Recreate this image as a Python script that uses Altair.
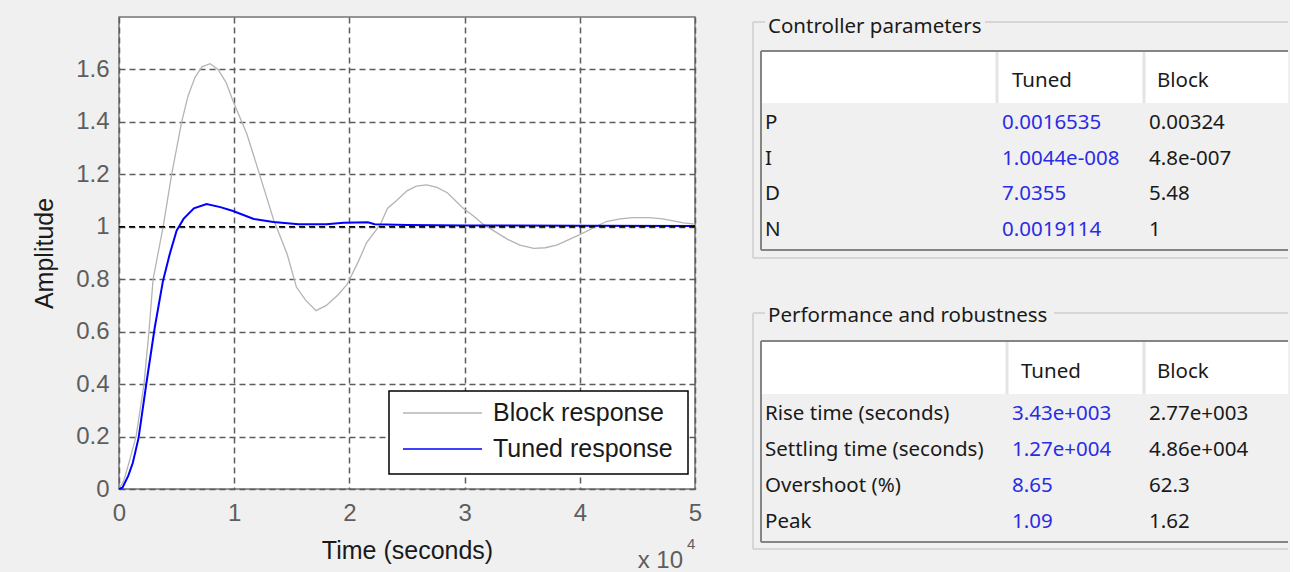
import altair as alt
import pandas as pd

# Step responses, time in units of 1e4 seconds
block_t = [0, 0.04, 0.08, 0.148, 0.217, 0.26, 0.296, 0.383, 0.457, 0.544,
           0.60, 0.66, 0.72, 0.79, 0.86, 0.93, 0.99, 1.11, 1.22, 1.34,
           1.46, 1.54, 1.62, 1.71, 1.80, 1.90, 1.98, 2.08, 2.15, 2.27,
           2.33, 2.41, 2.50, 2.58, 2.67, 2.76, 2.85, 2.99, 3.08, 3.16,
           3.37, 3.48, 3.60, 3.70, 3.80, 4.00, 4.23, 4.35, 4.46, 4.60,
           4.72, 4.90, 5.00]
block_y = [0, 0.03, 0.09, 0.2, 0.4, 0.6, 0.8, 1.0, 1.2, 1.4,
           1.5, 1.57, 1.61, 1.622, 1.60, 1.55, 1.48, 1.354, 1.20, 1.03,
           0.895, 0.77, 0.72, 0.68, 0.70, 0.74, 0.78, 0.87, 0.94, 1.01,
           1.07, 1.10, 1.137, 1.155, 1.16, 1.15, 1.13, 1.07, 1.04, 1.01,
           0.953, 0.93, 0.918, 0.92, 0.93, 0.97, 1.02, 1.03, 1.035, 1.035,
           1.03, 1.015, 1.01]

tuned_t = [0, 0.03, 0.08, 0.12, 0.17, 0.24, 0.31, 0.38, 0.44, 0.50,
           0.56, 0.65, 0.76, 0.88, 0.99, 1.08, 1.17, 1.34, 1.56, 1.80,
           1.95, 2.16, 2.22, 2.50, 3.00, 4.00, 5.00]
tuned_y = [0, 0.005, 0.05, 0.10, 0.195, 0.41, 0.615, 0.79, 0.895, 0.985,
           1.03, 1.07, 1.0865, 1.075, 1.06, 1.045, 1.03, 1.018, 1.01, 1.01,
           1.015, 1.017, 1.01, 1.007, 1.005, 1.004, 1.003]

x_ticks = [0, 1, 2, 3, 4, 5]
y_ticks = [0, 0.2, 0.4, 0.6, 0.8, 1.0, 1.2, 1.4, 1.6]
legend_labels = ["Block response", "Tuned response"]

param_names = ["P", "I", "D", "N"]
param_tuned = ["0.0016535", "1.0044e-008", "7.0355", "0.0019114"]
param_block = ["0.00324", "4.8e-007", "5.48", "1"]

perf_names = ["Rise time (seconds)", "Settling time (seconds)", "Overshoot (%)", "Peak"]
perf_tuned = ["3.43e+003", "1.27e+004", "8.65", "1.09"]
perf_block = ["2.77e+003", "4.86e+004", "62.3", "1.62"]

# ---------------------------------------------------------------- styling
PLOT_W, PLOT_H = 576, 472
PLOT_FONT = "Liberation Sans"
UI_FONT = "Noto Sans"
BG = "#f0f0f0"
GRAY_LINE = "#b4b4b4"
BLUE_LINE = "#0000ff"
TUNED_TEXT = "#2b2be6"
DARK_TEXT = "#1a1a1a"
GRID = dict(grid=True, gridDash=[6, 4], gridColor="#5c5c5c", gridWidth=1.5)

# ---------------------------------------------------------------- step plot
block_df = pd.DataFrame({"t": block_t, "amp": block_y})
tuned_df = pd.DataFrame({"t": tuned_t, "amp": tuned_y})

x_enc = alt.X(
    "t:Q",
    scale=alt.Scale(domain=[0, 5], nice=False, zero=False),
    axis=alt.Axis(
        values=x_ticks, format="d", title="Time (seconds)", **GRID,
        domain=False, ticks=False, labelFlush=False, labelOverlap=False,
        labelFont=PLOT_FONT, labelFontSize=24, labelColor="#5e5e5e", labelPadding=12,
        titleFont=PLOT_FONT, titleFontSize=25, titleFontWeight="normal",
        titleColor=DARK_TEXT, titlePadding=13,
    ),
)
y_enc = alt.Y(
    "amp:Q",
    scale=alt.Scale(domain=[0, 1.8], nice=False, zero=False),
    axis=alt.Axis(
        values=y_ticks, format=".1~f", title="Amplitude", **GRID,
        domain=False, ticks=False, labelFlush=False, labelOverlap=False,
        labelFont=PLOT_FONT, labelFontSize=24, labelColor="#5e5e5e", labelPadding=10,
        titleFont=PLOT_FONT, titleFontSize=25, titleFontWeight="normal",
        titleColor=DARK_TEXT, titlePadding=18,
    ),
)

block_line = alt.Chart(block_df).mark_line(color=GRAY_LINE, strokeWidth=1.3).encode(x=x_enc, y=y_enc)
tuned_line = alt.Chart(tuned_df).mark_line(color=BLUE_LINE, strokeWidth=2).encode(x="t:Q", y="amp:Q")

unity = alt.Chart(pd.DataFrame({"amp": [1.0]})).mark_rule(
    color="black", strokeDash=[6, 4], strokeWidth=1.6
).encode(y="amp:Q")

one = pd.DataFrame({"k": [0]})

# legend box with line samples
legend_box = alt.Chart(one).mark_rect(fill="white", stroke="black", strokeWidth=1.5).encode(
    x=alt.value(270), x2=alt.value(569), y=alt.value(374), y2=alt.value(457)
)
legend_parts = [legend_box]
for i, (label, col) in enumerate(zip(legend_labels, [GRAY_LINE, BLUE_LINE])):
    ly = 396 + 36 * i
    legend_parts.append(
        alt.Chart(one).mark_rule(color=col, strokeWidth=1.5).encode(
            x=alt.value(284), x2=alt.value(363), y=alt.value(ly)
        )
    )
    legend_parts.append(
        alt.Chart(one).mark_text(
            align="left", baseline="middle", font=PLOT_FONT, fontSize=25, color=DARK_TEXT
        ).encode(x=alt.value(374), y=alt.value(ly), text=alt.value(label))
    )

# exponent note under the time axis
exp_df = pd.DataFrame({"t": [5]})
exp_base = alt.Chart(exp_df).mark_text(
    align="right", baseline="alphabetic", font=PLOT_FONT, fontSize=24, color="#5e5e5e", dx=-12
).encode(x="t:Q", y=alt.value(PLOT_H + 79), text=alt.value("x 10"))
exp_pow = alt.Chart(exp_df).mark_text(
    align="left", baseline="alphabetic", font=PLOT_FONT, fontSize=15, color="#5e5e5e", dx=-8
).encode(x="t:Q", y=alt.value(PLOT_H + 60), text=alt.value("4"))

left = alt.layer(
    block_line, tuned_line, unity, *legend_parts, exp_base, exp_pow
).properties(
    width=PLOT_W, height=PLOT_H,
    view=alt.ViewBackground(fill="white", stroke="#747474", strokeWidth=1.5),
)

# ---------------------------------------------------------------- tables
PANEL_W, PANEL_H = 535, 540
sx = alt.Scale(domain=[0, PANEL_W], nice=False, zero=False)
sy = alt.Scale(domain=[0, PANEL_H], nice=False, zero=False, reverse=True)

tables = [
    dict(title="Controller parameters", names=param_names, tuned=param_tuned, block=param_block,
         box_top=5, title_y=10, title_end=232, top=34, head_bottom=86, bottom=233, box_bottom=241,
         seps=[244, 391], head_x=[259, 404], val_x=[249, 396], row_y=[106, 142, 177, 213], head_y=64),
    dict(title="Performance and robustness", names=perf_names, tuned=perf_tuned, block=perf_block,
         box_top=296, title_y=299, title_end=301, top=324, head_bottom=377, bottom=525, box_bottom=532,
         seps=[254, 391], head_x=[268, 404], val_x=[259, 396], row_y=[397, 433, 469, 505], head_y=355),
]

rects, rules, texts = [], [], []
for tb in tables:
    # group box frame (gap behind its title)
    gb = "#d6d6d6"
    rules += [
        dict(x=0, x2=12, y=tb["box_top"], y2=tb["box_top"], c=gb, w=2),
        dict(x=tb["title_end"], x2=PANEL_W, y=tb["box_top"], y2=tb["box_top"], c=gb, w=2),
        dict(x=0, x2=0, y=tb["box_top"], y2=tb["box_bottom"], c=gb, w=2),
        dict(x=0, x2=PANEL_W, y=tb["box_bottom"], y2=tb["box_bottom"], c=gb, w=2),
    ]
    texts.append(dict(x=15, y=tb["title_y"], text=tb["title"], c=DARK_TEXT))
    # header row
    rects.append(dict(x=9, x2=PANEL_W, y=tb["top"], y2=tb["head_bottom"], f="white"))
    for s in tb["seps"]:
        rules.append(dict(x=s, x2=s, y=tb["top"] + 1, y2=tb["head_bottom"], c="#e4e4e4", w=3))
    texts.append(dict(x=tb["head_x"][0], y=tb["head_y"], text="Tuned", c=DARK_TEXT))
    texts.append(dict(x=tb["head_x"][1], y=tb["head_y"], text="Block", c=DARK_TEXT))
    # table border
    bc = "#858585"
    rules += [
        dict(x=8, x2=PANEL_W, y=tb["top"], y2=tb["top"], c=bc, w=2),
        dict(x=8, x2=PANEL_W, y=tb["bottom"], y2=tb["bottom"], c=bc, w=2),
        dict(x=8, x2=8, y=tb["top"], y2=tb["bottom"], c=bc, w=2),
    ]
    # body rows
    for name, tv, bv, ry in zip(tb["names"], tb["tuned"], tb["block"], tb["row_y"]):
        texts.append(dict(x=12, y=ry, text=name, c=DARK_TEXT))
        texts.append(dict(x=tb["val_x"][0], y=ry, text=tv, c=TUNED_TEXT))
        texts.append(dict(x=tb["val_x"][1], y=ry, text=bv, c=DARK_TEXT))

rect_layer = alt.Chart(pd.DataFrame(rects)).mark_rect().encode(
    x=alt.X("x:Q", scale=sx, axis=None), x2="x2:Q",
    y=alt.Y("y:Q", scale=sy, axis=None), y2="y2:Q",
    fill=alt.Fill("f:N", scale=None),
)
rule_layer = alt.Chart(pd.DataFrame(rules)).mark_rule().encode(
    x=alt.X("x:Q", scale=sx, axis=None), x2="x2:Q",
    y=alt.Y("y:Q", scale=sy, axis=None), y2="y2:Q",
    color=alt.Color("c:N", scale=None),
    strokeWidth=alt.StrokeWidth("w:Q", scale=None),
)
text_layer = alt.Chart(pd.DataFrame(texts)).mark_text(
    align="left", baseline="middle", font=UI_FONT, fontSize=20.5
).encode(
    x=alt.X("x:Q", scale=sx, axis=None),
    y=alt.Y("y:Q", scale=sy, axis=None),
    text="text:N",
    color=alt.Color("c:N", scale=None),
)

right = alt.layer(rect_layer, rule_layer, text_layer).properties(
    width=PANEL_W, height=PANEL_H,
    view=alt.ViewBackground(fill="transparent", stroke="transparent"),
)

chart = alt.hconcat(left, right, spacing=48).properties(
    padding={"left": 31, "top": 16, "right": 0, "bottom": 0},
    background=BG,
)

chart.save("out.html", embed_options={"renderer": "svg", "actions": False})
